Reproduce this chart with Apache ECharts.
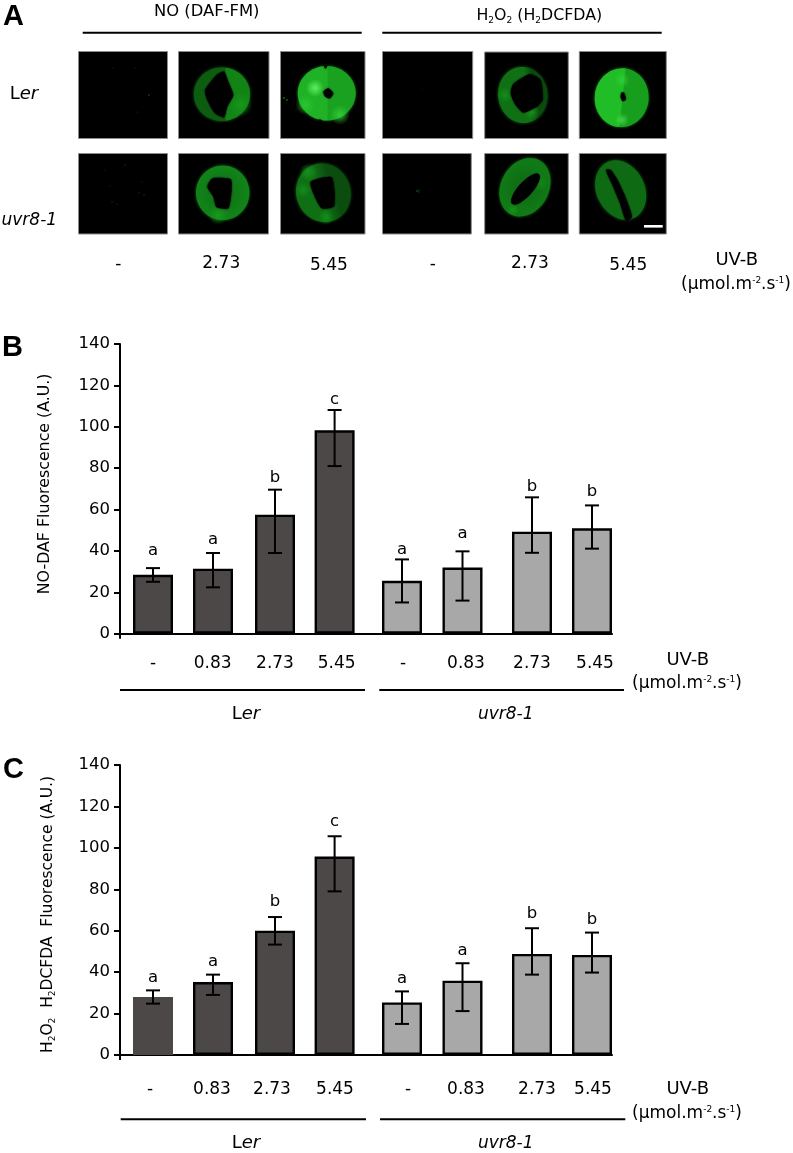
<!DOCTYPE html>
<html>
<head>
<meta charset="utf-8">
<style>
  html, body { margin: 0; padding: 0; background: #fff; }
  #chart { width: 793px; height: 1153px; }
</style>
<script src="https://cdn.jsdelivr.net/npm/echarts@6/dist/echarts.min.js"></script>
</head>
<body>
<div id="chart"></div>
<script>
const yTicks = [0, 20, 40, 60, 80, 100, 120, 140]
const doseLabels = ['-', '0.83', '2.73', '5.45', '-', '0.83', '2.73', '5.45']
const panelADoses = ['-', '2.73', '5.45', '-', '2.73', '5.45']

// panel B, NO-DAF
const noMean = [28.5, 31.4, 57.5, 98.3, 25.6, 32, 49.3, 50.9]
const noLow = [25.1, 22.4, 39, 81, 15.1, 16, 39.1, 41.1]
const noHigh = [31.7, 39, 69.6, 108.1, 35.9, 39.8, 65.9, 62]
const noSig = ['a', 'a', 'b', 'c', 'a', 'a', 'b', 'b']

// panel C, H2O2
const h2o2Mean = [28, 35.2, 60, 95.8, 25.4, 35.9, 48.8, 48.3]
const h2o2Low = [24.8, 29, 53.3, 79, 15, 21.2, 38.8, 39.8]
const h2o2High = [31.2, 38.8, 66.6, 105.6, 30.7, 44.3, 61.2, 59.1]
const h2o2Sig = ['a', 'a', 'b', 'c', 'a', 'a', 'b', 'b']

// layout only: where things sit along the x axis (axis units) and letter heights (value units)
const barSlots = [33, 93, 155, 214.6, 282, 342.5, 412, 472]
const bLabelSlots = [33, 92.7, 155, 216.7, 283, 346, 412, 475]
const cLabelSlots = [30, 92, 152, 215, 288, 346, 417, 473]
const bSigAt = [40.3, 45.2, 75.3, 113.1, 40.7, 48.1, 70.9, 68.6]
const cSigAt = [37.3, 45, 74, 112.6, 37, 50.4, 68, 65.5]

const FONT = '"DejaVu Sans", Verdana, sans-serif'
const DARK = '#4c4848'
const LIGHT = '#a8a8a8'
const rich = {
  sub: { fontSize: 9, fontFamily: FONT, verticalAlign: 'bottom', lineHeight: 18, fill: '#000', color: '#000' },
  sup: { fontSize: 9, fontFamily: FONT, verticalAlign: 'top', lineHeight: 18, fill: '#000', color: '#000' }
}
const erRich = Object.assign({ it: { fontStyle: 'italic', fontSize: 18, fontFamily: FONT, fill: '#000' } }, rich)

function errorItem(sig, sigAt) {
  return function (params, api) {
    const i = params.dataIndex
    const x = api.value(0)
    const lo = api.coord([x, api.value(1)])
    const hi = api.coord([x, api.value(2)])
    const sy = api.coord([x, sigAt[i]])[1]
    const line = (x1, y1, x2, y2) => ({
      type: 'line',
      shape: { x1, y1, x2, y2 },
      style: { stroke: '#000', lineWidth: 2 }
    })
    return {
      type: 'group',
      children: [
        line(lo[0], lo[1], hi[0], hi[1]),
        line(lo[0] - 7, lo[1], lo[0] + 7, lo[1]),
        line(hi[0] - 7, hi[1], hi[0] + 7, hi[1]),
        {
          type: 'text',
          style: {
            text: sig[i], x: lo[0], y: sy, align: 'center', verticalAlign: 'middle',
            fontSize: 16.5, fontFamily: FONT, fill: '#000'
          }
        }
      ]
    }
  }
}

function barData(means, plainFirst) {
  return means.map((v, i) => {
    const style = { color: i < 4 ? DARK : LIGHT, borderColor: '#000', borderWidth: 2.4 }
    if (plainFirst && i === 0) style.borderColor = DARK
    return { value: [barSlots[i], v], itemStyle: style }
  })
}

// one grid per chart panel
function axes(idx, labelSlots, labelMargin, top, height, name, nameGap, nameSize, namePadding) {
  return {
    grid: { left: 120, top, width: 492, height },
    xAxis: {
      type: 'value', gridIndex: idx, min: 0, max: 492,
      splitLine: { show: false },
      axisLine: { show: true, onZero: false, lineStyle: { color: '#000', width: 2 } },
      axisTick: { show: true, customValues: [0], length: 5, lineStyle: { color: '#000', width: 2 } },
      axisLabel: {
        customValues: labelSlots, margin: labelMargin, fontSize: 17, fontFamily: FONT, color: '#000',
        formatter: v => doseLabels[labelSlots.indexOf(v)]
      }
    },
    yAxis: {
      type: 'value', gridIndex: idx, min: yTicks[0], max: yTicks[yTicks.length - 1], interval: 20,
      splitLine: { show: false },
      axisLine: { show: true, onZero: false, lineStyle: { color: '#000', width: 2 } },
      axisTick: { show: true, length: 6, lineStyle: { color: '#000', width: 2 } },
      axisLabel: { margin: 10, fontSize: 16.5, fontFamily: FONT, color: '#000' },
      name, nameLocation: 'middle', nameGap, nameRotate: 90,
      nameTextStyle: { fontSize: nameSize, fontFamily: FONT, color: '#000', lineHeight: 18, padding: namePadding, rich }
    }
  }
}

function panelSeries(idx, means, lows, highs, sig, sigAt, plainFirst) {
  return [
    {
      type: 'bar', xAxisIndex: idx, yAxisIndex: idx, barWidth: 40,
      data: barData(means, plainFirst)
    },
    {
      type: 'custom', xAxisIndex: idx, yAxisIndex: idx, clip: false, z: 5,
      encode: { x: 0, y: [1, 2] },
      renderItem: errorItem(sig, sigAt),
      data: means.map((v, i) => [barSlots[i], lows[i], highs[i]])
    }
  ]
}

const text = (s, x, y, extra) => ({
  type: 'text', z: 10,
  style: Object.assign({
    text: s, x, y, align: 'center', verticalAlign: 'middle',
    fontSize: 17, fontFamily: FONT, fill: '#000', rich
  }, extra || {})
})
const rule = (x1, x2, y) => ({
  type: 'line', z: 10,
  shape: { x1, y1: y, x2, y2: y },
  style: { stroke: '#000', lineWidth: 2 }
})
const ITALIC = { fontStyle: 'italic' }
const PANEL = { fontSize: 29, fontWeight: 'bold', fontFamily: '"Liberation Sans", Arial, sans-serif', align: 'left', fill: '#000' }
const UNIT = 'µmol.m{sup|-2}.s{sup|-1}'

// micrograph drawing helpers, zoomed coordinates divided back down
const frame = (x1, y1, x2, y2) => ({
  type: 'rect', z: 2,
  shape: { x: x1, y: y1, width: x2 - x1, height: y2 - y1 },
  style: { fill: '#000', stroke: '#8c8c8c', lineWidth: 1 }
})
const blob = (cx, cy, rx, ry, fill, rot, soft) => ({
  type: 'ellipse', z: 3, x: cx, y: cy, rotation: (rot || 0) * Math.PI / 180,
  shape: { cx: 0, cy: 0, rx, ry },
  style: { fill, shadowBlur: soft === undefined ? 3 : soft, shadowColor: typeof fill === 'string' ? fill : '#0f7a14' }
})
const hole = (pts, ox) => ({
  type: 'polygon', z: 4,
  shape: { points: pts.map(p => [(ox || 0) + p[0] / 3, p[1] / 3]), smooth: 0.2 },
  style: { fill: '#000', shadowBlur: 2, shadowColor: '#000' }
})
const speck = (x, y, r, fill) => ({
  type: 'circle', z: 4,
  shape: { cx: x, cy: y, r },
  style: { fill: fill || '#0b3a0e' }
})
const split = (c1, c2, at, w) => ({
  type: 'linear', x: 0, y: 0, x2: 1, y2: 0,
  colorStops: [{ offset: 0, color: c1 }, { offset: at, color: c1 }, { offset: at + (w || 0.03), color: c2 }, { offset: 1, color: c2 }]
})
const glow = (c1, c2) => ({
  type: 'radial', x: 0.5, y: 0.5, r: 0.5,
  colorStops: [{ offset: 0, color: c1 }, { offset: 1, color: c2 }]
})
const soft = (cx, cy, r, c) => blob(cx, cy, r, r, glow(c, c.slice(0, 7) + '00'), 0, 0)

const micrographs = [
  frame(78.5, 51.5, 167.5, 138.5), frame(178.5, 51.5, 269, 138.5), frame(280.5, 51.5, 365, 138.5),
  frame(78.5, 153.5, 167.5, 234), frame(178.5, 153.5, 268.5, 234), frame(280.5, 153.5, 365, 234),
  frame(382.5, 51.5, 472.7, 138.5), frame(484.7, 52, 568.3, 138.5), frame(579.3, 51.5, 666.3, 138.5),
  frame(382.5, 153.5, 471.3, 234), frame(484.7, 153.5, 568.3, 234), frame(579.3, 153.5, 666.3, 234),

  // Ler, NO
  speck(113, 68, 0.6), speck(135, 68, 0.6), speck(149, 95, 1), speck(137, 112, 0.6),
  blob(222, 94.3, 28, 26.7, split('#0d5d11', '#128416', 0.55)),
  soft(241, 105, 12, '#18a01eaa'),
  hole([[650, 225], [672, 215], [685, 245], [700, 285], [682, 320], [672, 352], [645, 340], [622, 300], [615, 270]]),

  blob(326.7, 93.3, 29, 27.3, split('#1fb226', '#1aa120', 0.5)),
  soft(315, 88, 9, '#5cf060ff'), soft(340, 115, 10, '#35d53acc'), soft(305, 105, 10, '#2fcf35aa'),
  hole([[970, 275], [985, 265], [1000, 280], [990, 295], [976, 290]]),
  hole([[972, 197], [982, 197], [976, 206]]), hole([[952, 368], [968, 368], [960, 358]]),
  speck(284, 98, 1, '#0f6a13'), speck(287, 100, 0.9, '#0f6a13'),

  // uvr8-1, NO
  speck(110, 186, 0.6), speck(125, 165, 0.7), speck(112, 202, 0.7), speck(117, 204, 0.6),
  speck(139, 193, 0.7), speck(144, 195, 0.8), speck(142, 182, 0.6), speck(105, 170, 0.5),
  blob(222.7, 192.7, 26.7, 27.3, glow('#0f7014', '#118419')),
  soft(218, 215, 10, '#18a01ecc'),
  hole([[638, 535], [692, 538], [695, 570], [685, 625], [650, 622], [640, 590], [622, 560]]),

  blob(323.3, 192.7, 27, 29.5, split('#0f6f14', '#0a4d0e', 0.45, 0.25), 18),
  soft(308, 172, 9, '#1a9a20cc'), soft(303, 190, 8, '#189a1eaa'), soft(326, 217, 8, '#159a1bbb'),
  hole([[932, 545], [995, 532], [1003, 618], [965, 625], [940, 580]]),

  // Ler, H2O2
  speck(422, 89, 0.5, '#072a09'),
  blob(522.7, 95, 24.5, 28, split('#0f7014', '#0a4a0d', 0.6, 0.15), 8),
  soft(505, 95, 8, '#18a01e99'), soft(532, 112, 8, '#18a01ebb'),
  hole([[370, 252], [420, 222], [452, 240], [458, 300], [440, 320], [400, 338], [375, 312], [362, 280]], 390),

  blob(621.7, 97.7, 27, 29.5, split('#20bd26', '#189e1d', 0.5), -6),
  soft(622, 120, 7, '#50e855aa'), soft(622, 80, 8, '#35d53aaa'),
  hole([[694, 278], [702, 278], [708, 298], [698, 304], [692, 292]], 390),

  // uvr8-1, H2O2
  speck(417, 191, 0.9, '#0c4d10'), speck(419, 190, 0.7, '#0c4d10'), speck(419, 192, 0.7, '#0c4d10'),
  blob(525, 187.3, 24, 30.5, glow('#0e6613', '#107a16'), -28),
  soft(540, 183, 8, '#149018aa'), soft(513, 210, 6, '#18a01eaa'),
  blob(525.5, 189, 7, 20, '#000', -42, 1),

  blob(620.7, 190, 24, 31, '#0e6b13', 26),
  hole([[648, 510], [662, 510], [680, 535], [706, 590], [726, 650], [708, 662], [690, 610], [665, 550]], 390),
  { type: 'rect', z: 5, shape: { x: 644, y: 225, width: 18.7, height: 2.6 }, style: { fill: '#fff' } }
]

const annotations = [
  text('A', 3, 17, PANEL), text('B', 2, 348, PANEL), text('C', 3, 770, PANEL),

  text('NO (DAF-FM)', 206.7, 11.5, { fontSize: 16.4 }),
  text('H{sub|2}O{sub|2} (H{sub|2}DCFDA)', 539.3, 16, { fontSize: 15.8 }),
  rule(82.7, 361.7, 32.7), rule(382.3, 661.7, 32.7),
  text('L{it|er}', 24, 94.3, { fontSize: 18, rich: erRich }),
  text('uvr8-1', 29.3, 220.7, ITALIC),

  text(panelADoses[0], 118.3, 265), text(panelADoses[1], 221.3, 264), text(panelADoses[2], 329, 266),
  text(panelADoses[3], 432.7, 265), text(panelADoses[4], 530, 264), text(panelADoses[5], 628.3, 266),
  text('UV-B', 736.7, 260, { fontSize: 18 }), text('(' + UNIT + ')', 736, 285),

  rule(120, 365, 690), rule(379.3, 624, 690),
  text('L{it|er}', 246, 714.3, { fontSize: 18, rich: erRich }),
  text('uvr8-1', 505.7, 715, ITALIC),
  text('UV-B', 687.7, 660, { fontSize: 18 }), text('(' + UNIT + ')', 687, 684),

  rule(120.7, 366, 1119.3), rule(380, 625.3, 1119.3),
  text('L{it|er}', 246, 1143, { fontSize: 18, rich: erRich }),
  text('uvr8-1', 505.7, 1144, ITALIC),
  text('UV-B', 687.7, 1089, { fontSize: 18 }), text('(' + UNIT + ')', 687, 1114)
]

const b = axes(0, bLabelSlots, 21, 344, 289.7, 'NO-DAF Fluorescence (A.U.)', 66, 15.8, [0, 0, 0, 10])
const c = axes(1, cLabelSlots, 26.5, 765, 290, 'H{sub|2}O{sub|2}  H{sub|2}DCFDA  Fluorescence (A.U.)', 63, 15.5, [0, 9, 0, 0])

const myChart = echarts.init(document.getElementById('chart'), null, { renderer: 'canvas' })
myChart.setOption({
  animation: false,
  backgroundColor: '#fff',
  grid: [b.grid, c.grid],
  xAxis: [b.xAxis, c.xAxis],
  yAxis: [b.yAxis, c.yAxis],
  series: [
    ...panelSeries(0, noMean, noLow, noHigh, noSig, bSigAt, false),
    ...panelSeries(1, h2o2Mean, h2o2Low, h2o2High, h2o2Sig, cSigAt, true)
  ],
  graphic: [...micrographs, ...annotations]
})
</script>
</body>
</html>
